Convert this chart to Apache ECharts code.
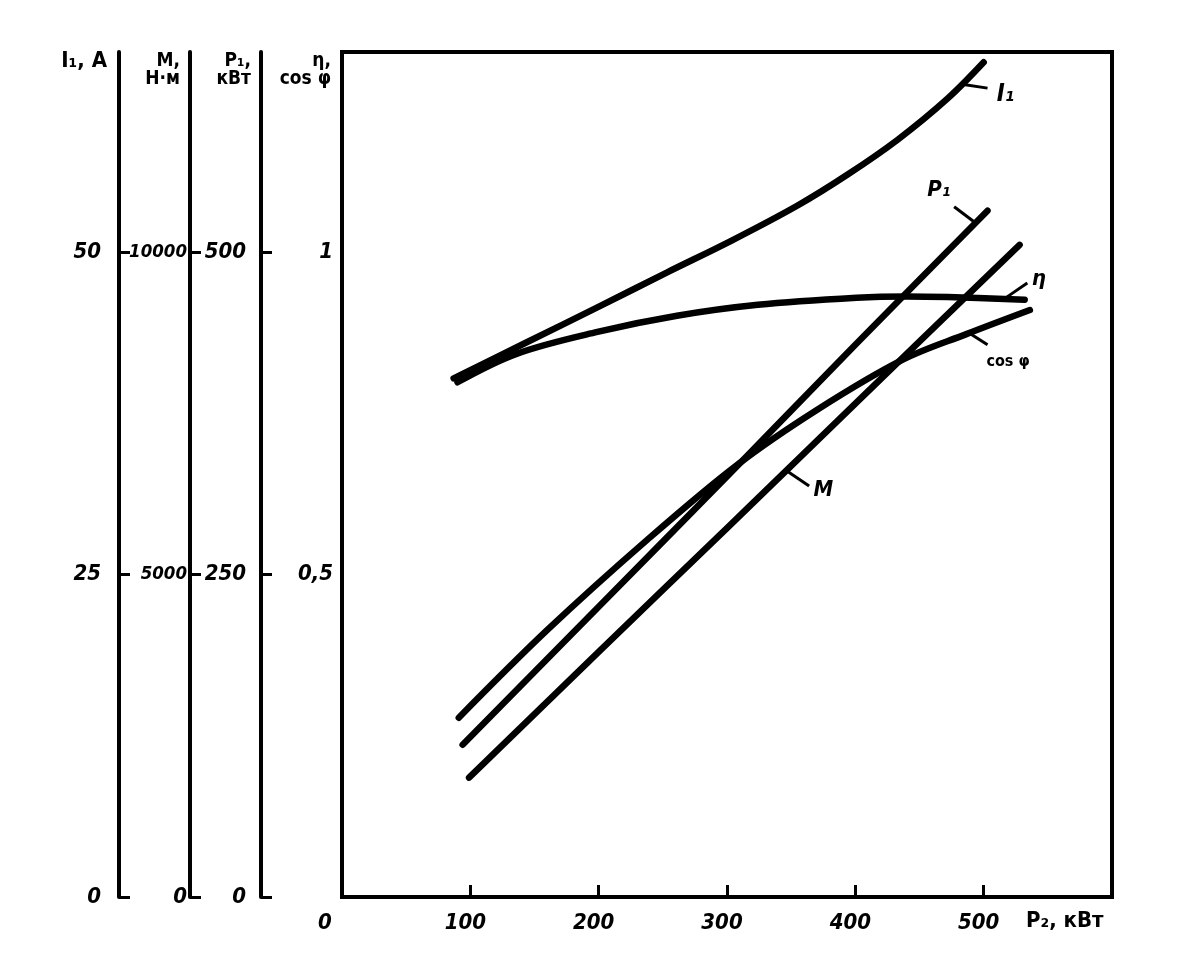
<!DOCTYPE html>
<html>
<head>
<meta charset="utf-8">
<script src="https://cdn.jsdelivr.net/npm/echarts@6/dist/echarts.min.js"></script>
<style>
html,body{margin:0;padding:0;background:#fff;}
#chart{width:1180px;height:960px;}
</style>
</head>
<body>
<div id="chart"></div>
<script>
// ---- data ----
const P2_I1 = [87, 144, 199, 253, 304, 355, 394, 433, 472, 500];
const I1 = [40.2, 43.0, 45.7, 48.4, 50.9, 53.6, 56.0, 58.7, 61.9, 64.7];

const P2_ETA = [90, 136, 199, 261, 324, 401, 440, 472, 532];
const ETA = [0.798, 0.842, 0.876, 0.901, 0.918, 0.929, 0.931, 0.930, 0.926];

const P2_COS = [91, 160, 238, 308, 370, 437, 487, 536];
const COS = [0.278, 0.414, 0.554, 0.670, 0.755, 0.833, 0.873, 0.910];

const P2_P1 = [94, 200, 300, 400, 503];
const P1 = [118, 225, 326, 428, 532];

const P2_M = [99, 200, 300, 400, 528];
const M = [1850, 3800, 5720, 7650, 10110];

// tick labels
const X_TICKS = [100, 200, 300, 400, 500];
const X_LABELS = [0, 100, 200, 300, 400, 500];
const I1_TICKS = [0, 25, 50];
const M_TICKS = [0, 5000, 10000];
const P1_TICKS = [0, 250, 500];
const ETA_LABELS = [0.5, 1];

// curve captions (text, caption centre, leader from curve to caption) in data units
const CAP_I1 = {text: 'I₁', at: [517, 62.2], leader: [[483, 63.0], [503, 62.7]]};
const CAP_P1 = {text: 'P₁', at: [465, 548], leader: [[493, 523], [477, 535]]};
const CAP_ETA = {text: 'η', at: [543, 0.957], leader: [[518, 0.930], [534, 0.952]]};
const CAP_COS = {text: 'cos φ', at: [519, 0.829], leader: [[489, 0.874], [503, 0.856]]};
const CAP_M = {text: 'М', at: [375, 6310], leader: [[347, 6600], [364, 6372]]};

const ETA_MAX = 1.31;

// ---- chart ----
const FONT = "'DejaVu Sans Condensed', 'DejaVu Sans', sans-serif";
const zip = (xs, ys) => xs.map((x, i) => [x, ys[i]]);
const numFmt = v => String(v).replace('.', ',');
const plainFmt = v => String(v);

function capSeries(cap, fontSize, italic) {
  return {
    markLine: {
      silent: true, animation: false, symbol: ['none', 'none'],
      lineStyle: {color: '#000', width: 3, type: 'solid'},
      label: {show: false},
      data: [[{coord: cap.leader[0]}, {coord: cap.leader[1]}]]
    },
    markPoint: {
      silent: true, animation: false, symbol: 'circle', symbolSize: 1,
      itemStyle: {color: 'rgba(0,0,0,0)'},
      label: {show: true, position: 'inside', formatter: cap.text, color: '#000',
        fontFamily: FONT, fontWeight: 'bold', fontStyle: italic ? 'italic' : 'normal', fontSize: fontSize},
      data: [{coord: cap.at}]
    }
  };
}

function nameStyle(size, lh, pad) {
  return {color: '#000', fontFamily: FONT, fontWeight: 'bold', fontSize: size,
    align: 'right', verticalAlign: 'top', lineHeight: lh, padding: pad};
}

function leftAxis(opts) {
  return Object.assign({
    type: 'value', position: 'left', min: 0,
    axisLine: {show: true, lineStyle: {color: '#000', width: 4}},
    splitLine: {show: false},
    nameLocation: 'end',
    nameGap: 0
  }, opts);
}

const labelStyle = {color: '#000', fontFamily: FONT, fontWeight: 'bold', fontStyle: 'italic', fontSize: 22};
const tickStyle = {color: '#000', width: 3};

const option = {
  animation: false,
  backgroundColor: '#fff',
  grid: {left: 342, right: 68, top: 52, bottom: 63, show: true, borderColor: '#000', borderWidth: 4, containLabel: false},
  xAxis: {
    type: 'value', min: 0, max: 600,
    axisLine: {show: true, lineStyle: {color: '#000', width: 4}},
    axisTick: {show: true, inside: true, length: 12, customValues: X_TICKS, lineStyle: tickStyle},
    splitLine: {show: false},
    axisLabel: Object.assign({}, labelStyle, {
      customValues: X_LABELS, margin: 15,
      formatter: v => v === 0 ? '{z|0}' : '{n|' + v + '}',
      rich: {
        z: Object.assign({}, labelStyle, {padding: [0, 34, 0, 0]}),
        n: Object.assign({}, labelStyle, {padding: [0, 10, 0, 0]})
      }
    }),
    name: 'P₂, кВт', nameLocation: 'end', nameGap: -86,
    nameTextStyle: {color: '#000', fontFamily: FONT, fontWeight: 'bold', fontSize: 22,
      align: 'left', verticalAlign: 'top', padding: [13, 0, 0, 0]}
  },
  yAxis: [
    leftAxis({ // η, cos φ  (index 0) - the box edge
      max: ETA_MAX, offset: 0,
      axisTick: {show: false},
      axisLabel: Object.assign({}, labelStyle, {customValues: ETA_LABELS, margin: 9, formatter: numFmt}),
      name: 'η,\ncos φ',
      nameTextStyle: nameStyle(19, 18, [0, 11, 0, 0])
    }),
    leftAxis({ // P1 (index 1)
      max: ETA_MAX * 500, offset: 81,
      axisTick: {show: true, inside: true, length: 11, customValues: P1_TICKS, lineStyle: tickStyle},
      axisLabel: Object.assign({}, labelStyle, {customValues: P1_TICKS, margin: 15, formatter: plainFmt}),
      name: 'P₁,\nкВт',
      nameTextStyle: nameStyle(19, 18, [0, 10, 0, 0])
    }),
    leftAxis({ // M (index 2)
      max: ETA_MAX * 10000, offset: 152,
      axisTick: {show: true, inside: true, length: 11, customValues: M_TICKS, lineStyle: tickStyle},
      axisLabel: Object.assign({}, labelStyle, {
        customValues: M_TICKS, margin: 3,
        formatter: v => v === 0 ? '{b|0}' : '{s|' + v + '}',
        rich: {
          b: Object.assign({}, labelStyle, {fontSize: 22}),
          s: Object.assign({}, labelStyle, {fontSize: 18.5})
        }
      }),
      name: 'М,\nН·м',
      nameTextStyle: nameStyle(19, 18, [0, 10, 0, 0])
    }),
    leftAxis({ // I1 (index 3)
      max: ETA_MAX * 50, offset: 223,
      axisTick: {show: true, inside: true, length: 11, customValues: I1_TICKS, lineStyle: tickStyle},
      axisLabel: Object.assign({}, labelStyle, {customValues: I1_TICKS, margin: 18, formatter: plainFmt}),
      name: 'I₁, A',
      nameGap: 2,
      nameTextStyle: nameStyle(22, 22, [0, 12, 0, 0])
    })
  ],
  series: []
};

const lineBase = {type: 'line', smooth: 0.35, symbol: 'none', silent: true,
  lineStyle: {color: '#000', width: 6.5, cap: 'round', join: 'round'}};

option.series.push(Object.assign({}, lineBase, {name: 'I1', yAxisIndex: 3, data: zip(P2_I1, I1)}, capSeries(CAP_I1, 24, true)));
option.series.push(Object.assign({}, lineBase, {name: 'eta', yAxisIndex: 0, data: zip(P2_ETA, ETA)}, capSeries(CAP_ETA, 22, true)));
option.series.push(Object.assign({}, lineBase, {name: 'cos', yAxisIndex: 0, data: zip(P2_COS, COS)}, capSeries(CAP_COS, 16, false)));
option.series.push(Object.assign({}, lineBase, {name: 'P1', yAxisIndex: 1, data: zip(P2_P1, P1)}, capSeries(CAP_P1, 22, true)));
option.series.push(Object.assign({}, lineBase, {name: 'M', yAxisIndex: 2, data: zip(P2_M, M)}, capSeries(CAP_M, 22, true)));

const chart = echarts.init(document.getElementById('chart'), null, {renderer: 'canvas'});
chart.setOption(option);
</script>
</body>
</html>
